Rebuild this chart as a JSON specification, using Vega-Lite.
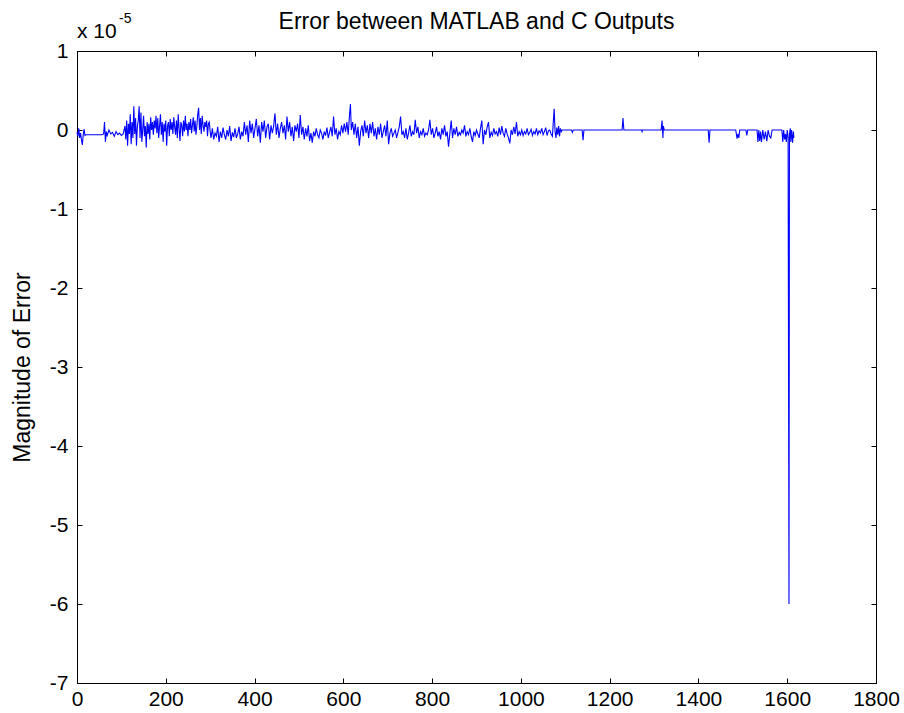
{
  "$schema": "https://vega.github.io/schema/vega-lite/v6.json",
  "width": 799,
  "height": 632,
  "autosize": {"type": "none"},
  "padding": {"left": 77, "top": 51, "right": 28, "bottom": 30},
  "background": "white",
  "config": {
    "view": {"stroke": "black", "strokeWidth": 1},
    "font": "Liberation Sans",
    "axis": {"grid": false, "domainColor": "black", "tickColor": "black", "labelColor": "black", "labelFont": "Liberation Sans", "labelFontSize": 21, "tickSize": -5, "domainWidth": 1, "tickWidth": 1, "labelExpr": "'' + datum.value"}
  },
  "title": {"text": "Error between MATLAB and C Outputs", "font": "Liberation Sans", "fontSize": 23, "fontWeight": "normal", "color": "black", "anchor": "middle", "baseline": "alphabetic", "offset": 19, "dy": 59},
  "datasets": {
    "err": [
      {"i":0,"e":-0.03},{"i":2,"e":-0.08},{"i":4,"e":0.02},{"i":6,"e":-0.1},{"i":8,"e":-0.04},{"i":10,"e":-0.12},{"i":12,"e":-0.19},{"i":14,"e":-0.06},{"i":16,"e":0.01},{"i":18,"e":-0.07},{"i":20,"e":-0.06},
      {"i":24,"e":-0.06},{"i":28,"e":-0.06},{"i":32,"e":-0.06},{"i":36,"e":-0.06},{"i":40,"e":-0.06},{"i":44,"e":-0.06},{"i":48,"e":-0.06},{"i":52,"e":-0.06},{"i":56,"e":-0.06},
      {"i":60,"e":-0.05},{"i":62,"e":0.1},{"i":64,"e":-0.15},{"i":66,"e":-0.02},{"i":68,"e":-0.07},{"i":72,"e":0.0},{"i":76,"e":-0.05},{"i":80,"e":-0.03},{"i":84,"e":-0.08},{"i":88,"e":-0.02},{"i":92,"e":-0.06},{"i":96,"e":-0.04},{"i":100,"e":-0.07},{"i":104,"e":-0.05},
      {"i":108,"e":0.05},{"i":110,"e":-0.12},{"i":112,"e":0.12},{"i":114,"e":-0.2},{"i":116,"e":0.08},{"i":118,"e":-0.05},{"i":120,"e":0.2},{"i":122,"e":-0.18},{"i":124,"e":0.1},{"i":126,"e":-0.1},{"i":128,"e":0.3},{"i":130,"e":-0.05},{"i":132,"e":0.15},{"i":134,"e":-0.2},{"i":136,"e":0.05},{"i":138,"e":0.12},{"i":140,"e":0.3},{"i":142,"e":-0.1},{"i":144,"e":0.22},{"i":146,"e":-0.15},{"i":148,"e":0.0},{"i":150,"e":0.18},{"i":152,"e":-0.08},{"i":154,"e":0.05},{"i":156,"e":-0.22},{"i":158,"e":0.1},{"i":160,"e":-0.05},{"i":162,"e":0.08},{"i":164,"e":-0.12},{"i":166,"e":0.16},{"i":168,"e":0.0},{"i":170,"e":0.1},{"i":172,"e":-0.06},{"i":174,"e":0.12},{"i":176,"e":0.02},{"i":178,"e":0.18},{"i":180,"e":-0.04},{"i":182,"e":0.15},{"i":184,"e":-0.1},{"i":186,"e":0.05},{"i":188,"e":0.2},{"i":190,"e":-0.06},{"i":192,"e":0.1},{"i":194,"e":-0.15},{"i":196,"e":0.08},{"i":198,"e":-0.02},{"i":200,"e":0.12},{"i":202,"e":-0.2},{"i":204,"e":0.05},{"i":206,"e":0.1},{"i":208,"e":-0.08},{"i":210,"e":0.14},{"i":212,"e":0.0},{"i":214,"e":0.1},{"i":216,"e":-0.05},{"i":218,"e":0.16},{"i":220,"e":0.04},{"i":222,"e":-0.06},{"i":224,"e":0.12},{"i":226,"e":-0.1},{"i":228,"e":0.2},{"i":230,"e":0.02},{"i":232,"e":-0.14},{"i":234,"e":0.1},{"i":236,"e":0.06},{"i":238,"e":-0.08},{"i":240,"e":0.12},{"i":242,"e":-0.02},{"i":244,"e":0.18},{"i":246,"e":0.0},{"i":248,"e":0.08},{"i":250,"e":-0.08},
      {"i":252,"e":0.1},{"i":254,"e":0.0},{"i":256,"e":0.14},{"i":258,"e":-0.04},{"i":260,"e":0.06},{"i":262,"e":0.16},{"i":264,"e":-0.02},{"i":266,"e":0.12},{"i":268,"e":-0.06},{"i":270,"e":0.05},{"i":272,"e":0.2},{"i":274,"e":0.28},{"i":276,"e":0.0},{"i":278,"e":0.15},{"i":280,"e":-0.05},{"i":282,"e":0.18},{"i":284,"e":0.06},{"i":286,"e":-0.02},{"i":288,"e":0.1},{"i":290,"e":0.04},{"i":292,"e":0.12},{"i":294,"e":-0.08},{"i":296,"e":0.08},{"i":298,"e":0.1},{"i":300,"e":-0.02},
      {"i":302,"e":-0.1},{"i":305,"e":0.02},{"i":308,"e":-0.12},{"i":311,"e":-0.04},{"i":314,"e":-0.08},{"i":317,"e":0.04},{"i":320,"e":-0.15},{"i":323,"e":-0.02},{"i":326,"e":-0.1},{"i":329,"e":0.03},{"i":332,"e":-0.06},{"i":335,"e":-0.12},{"i":338,"e":0.0},{"i":341,"e":-0.08},{"i":344,"e":0.05},{"i":347,"e":-0.14},{"i":350,"e":-0.03},{"i":353,"e":-0.09},{"i":356,"e":0.02},{"i":359,"e":-0.1},{"i":362,"e":-0.05},{"i":365,"e":0.04},{"i":368,"e":-0.12},{"i":371,"e":-0.02},{"i":374,"e":-0.08},
      {"i":377,"e":0.1},{"i":380,"e":-0.06},{"i":383,"e":0.06},{"i":386,"e":-0.15},{"i":389,"e":0.12},{"i":392,"e":-0.04},{"i":395,"e":0.08},{"i":398,"e":-0.1},{"i":401,"e":0.02},{"i":404,"e":0.14},{"i":407,"e":-0.08},{"i":410,"e":0.06},{"i":413,"e":-0.16},{"i":416,"e":0.1},{"i":419,"e":-0.02},{"i":422,"e":0.12},{"i":425,"e":-0.1},{"i":428,"e":0.04},{"i":431,"e":0.08},{"i":434,"e":-0.12},{"i":437,"e":0.06},{"i":440,"e":-0.04},
      {"i":443,"e":0.05},{"i":446,"e":0.21},{"i":449,"e":-0.06},{"i":452,"e":0.08},{"i":455,"e":-0.1},{"i":458,"e":0.02},{"i":461,"e":0.1},{"i":464,"e":-0.04},{"i":467,"e":0.06},{"i":470,"e":-0.12},{"i":473,"e":0.17},{"i":476,"e":-0.02},{"i":479,"e":0.1},{"i":482,"e":-0.08},{"i":485,"e":0.04},{"i":488,"e":-0.14},{"i":491,"e":0.06},{"i":494,"e":-0.02},{"i":497,"e":0.08},{"i":500,"e":-0.1},{"i":503,"e":0.19},{"i":506,"e":-0.06},{"i":509,"e":0.04},{"i":512,"e":-0.12},{"i":515,"e":0.02},{"i":518,"e":-0.08},{"i":521,"e":0.06},{"i":524,"e":-0.14},{"i":527,"e":-0.04},{"i":530,"e":-0.16},{"i":533,"e":-0.02},{"i":536,"e":-0.08},{"i":539,"e":0.02},{"i":542,"e":-0.06},{"i":545,"e":-0.1},{"i":548,"e":0.0},{"i":551,"e":-0.04},{"i":554,"e":-0.12},{"i":557,"e":-0.02},{"i":560,"e":-0.07},{"i":563,"e":0.03},{"i":566,"e":-0.1},{"i":569,"e":-0.03},{"i":572,"e":0.04},{"i":575,"e":-0.08},{"i":578,"e":0.17},{"i":581,"e":-0.06},{"i":584,"e":0.02},{"i":587,"e":-0.12},{"i":590,"e":-0.02},{"i":593,"e":-0.06},{"i":596,"e":0.06},{"i":599,"e":-0.04},{"i":602,"e":0.08},{"i":605,"e":-0.02},{"i":608,"e":0.1},{"i":611,"e":-0.06},{"i":614,"e":0.2},{"i":616,"e":0.33},{"i":618,"e":0.0},{"i":621,"e":0.1},{"i":624,"e":-0.06},{"i":627,"e":0.08},{"i":630,"e":-0.1},{"i":633,"e":0.04},{"i":636,"e":-0.2},{"i":639,"e":-0.02},{"i":642,"e":0.06},{"i":645,"e":-0.08},{"i":648,"e":0.12},{"i":651,"e":-0.04},{"i":654,"e":0.06},{"i":657,"e":-0.1},{"i":660,"e":0.08},
      {"i":663,"e":-0.04},{"i":666,"e":0.1},{"i":669,"e":-0.08},{"i":672,"e":0.02},{"i":675,"e":-0.12},{"i":678,"e":0.04},{"i":681,"e":-0.06},{"i":684,"e":0.08},{"i":687,"e":-0.1},{"i":690,"e":-0.02},{"i":693,"e":0.06},{"i":696,"e":-0.08},{"i":699,"e":0.12},{"i":702,"e":-0.18},{"i":705,"e":-0.04},{"i":708,"e":0.02},{"i":711,"e":-0.08},{"i":714,"e":-0.04},{"i":717,"e":0.0},{"i":720,"e":-0.1},{"i":723,"e":-0.03},{"i":726,"e":0.04},{"i":729,"e":0.17},{"i":732,"e":-0.06},{"i":735,"e":-0.02},{"i":738,"e":-0.1},{"i":741,"e":0.02},{"i":744,"e":-0.12},{"i":747,"e":-0.04},{"i":750,"e":0.06},{"i":753,"e":-0.08},{"i":756,"e":-0.02},{"i":759,"e":-0.06},{"i":762,"e":0.13},{"i":765,"e":-0.04},{"i":768,"e":0.04},{"i":771,"e":-0.1},{"i":774,"e":-0.02},{"i":777,"e":-0.06},{"i":780,"e":0.02},{"i":783,"e":-0.08},{"i":786,"e":-0.04},{"i":789,"e":-0.06},{"i":792,"e":0.0},{"i":795,"e":0.13},{"i":798,"e":-0.06},{"i":801,"e":0.02},{"i":804,"e":-0.1},{"i":807,"e":-0.04},{"i":810,"e":0.04},{"i":813,"e":-0.08},{"i":816,"e":-0.02},{"i":819,"e":-0.12},{"i":822,"e":0.02},{"i":825,"e":-0.06},{"i":828,"e":0.06},{"i":831,"e":-0.08},{"i":834,"e":-0.02},{"i":837,"e":-0.21},{"i":840,"e":-0.04},{"i":843,"e":0.12},{"i":846,"e":-0.1},{"i":849,"e":0.02},{"i":852,"e":-0.06},{"i":855,"e":0.04},{"i":858,"e":-0.08},{"i":861,"e":-0.03},{"i":864,"e":-0.06},{"i":867,"e":0.0},{"i":870,"e":-0.04},{"i":873,"e":0.06},{"i":876,"e":-0.08},{"i":879,"e":-0.02},{"i":882,"e":-0.06},
      {"i":885,"e":0.02},{"i":888,"e":-0.08},{"i":891,"e":-0.15},{"i":894,"e":-0.02},{"i":897,"e":-0.07},{"i":900,"e":0.0},{"i":903,"e":-0.05},{"i":906,"e":-0.1},{"i":909,"e":0.02},{"i":912,"e":0.12},{"i":915,"e":-0.18},{"i":918,"e":0.0},{"i":921,"e":-0.06},{"i":924,"e":0.04},{"i":927,"e":0.1},{"i":930,"e":-0.1},{"i":933,"e":-0.03},{"i":936,"e":-0.07},{"i":939,"e":0.02},{"i":942,"e":-0.05},{"i":945,"e":-0.02},{"i":948,"e":-0.08},{"i":951,"e":0.03},{"i":954,"e":-0.06},{"i":957,"e":0.05},{"i":960,"e":-0.04},{"i":963,"e":-0.08},{"i":966,"e":0.02},{"i":969,"e":-0.05},{"i":972,"e":-0.1},{"i":975,"e":-0.17},{"i":978,"e":0.0},{"i":981,"e":-0.06},{"i":984,"e":0.04},{"i":987,"e":-0.05},{"i":990,"e":0.1},{"i":993,"e":-0.08},{"i":996,"e":-0.02},{"i":999,"e":-0.06},{"i":1002,"e":0.0},{"i":1005,"e":-0.07},{"i":1008,"e":-0.02},{"i":1011,"e":-0.05},{"i":1014,"e":0.02},{"i":1017,"e":-0.06},{"i":1020,"e":-0.03},{"i":1023,"e":0.01},{"i":1026,"e":-0.07},{"i":1029,"e":-0.02},{"i":1032,"e":-0.05},{"i":1035,"e":0.02},{"i":1038,"e":-0.06},{"i":1041,"e":-0.01},{"i":1044,"e":-0.04},{"i":1047,"e":0.02},{"i":1050,"e":-0.06},{"i":1053,"e":-0.02},{"i":1056,"e":0.03},{"i":1059,"e":-0.07},{"i":1062,"e":-0.01},{"i":1065,"e":0.0},{"i":1068,"e":-0.05},{"i":1071,"e":-0.08},{"i":1073,"e":0.1},{"i":1075,"e":0.27},{"i":1077,"e":-0.02},{"i":1079,"e":-0.1},{"i":1081,"e":0.03},{"i":1083,"e":-0.06},{"i":1085,"e":0.05},{"i":1087,"e":-0.08},{"i":1089,"e":0.02},{"i":1091,"e":-0.02},{"i":1093,"e":0.0},
      {"i":1114,"e":0.0},{"i":1116,"e":-0.03},{"i":1118,"e":0.0},{"i":1138,"e":0.0},{"i":1140,"e":-0.13},{"i":1142,"e":0.0},{"i":1228,"e":0.0},{"i":1230,"e":0.15},{"i":1232,"e":0.0},{"i":1272,"e":0.0},{"i":1273,"e":-0.02},{"i":1274,"e":0.0},{"i":1316,"e":0.0},{"i":1318,"e":0.12},{"i":1320,"e":-0.1},{"i":1321,"e":0.05},{"i":1323,"e":0.0},{"i":1422,"e":0.0},{"i":1424,"e":-0.16},{"i":1426,"e":0.0},{"i":1484,"e":0.0},{"i":1487,"e":-0.11},{"i":1489,"e":-0.05},{"i":1491,"e":-0.1},{"i":1493,"e":0.0},{"i":1507,"e":0.0},{"i":1509,"e":-0.07},{"i":1511,"e":0.0},{"i":1532,"e":0.0},{"i":1534,"e":-0.15},{"i":1536,"e":0.0},{"i":1538,"e":-0.14},{"i":1540,"e":-0.02},{"i":1542,"e":-0.15},{"i":1545,"e":0.0},{"i":1548,"e":-0.12},{"i":1551,"e":-0.02},{"i":1554,"e":-0.14},{"i":1557,"e":0.0},{"i":1560,"e":-0.08},{"i":1563,"e":-0.1},{"i":1566,"e":0.0},{"i":1570,"e":0.0},{"i":1588,"e":0.0},{"i":1590,"e":-0.15},{"i":1592,"e":0.0},{"i":1594,"e":-0.12},{"i":1596,"e":-0.05},{"i":1598,"e":-0.15},{"i":1600,"e":0.0},{"i":1602,"e":-0.1},{"i":1604,"e":-6.0},{"i":1605,"e":-0.05},{"i":1607,"e":0.02},{"i":1608,"e":-0.15},{"i":1610,"e":0.0},{"i":1612,"e":-0.16},{"i":1614,"e":-0.02},{"i":1615,"e":-0.1}
    ]
  },
  "resolve": {"axis": {"x": "independent", "y": "independent"}},
  "layer": [
    {
      "data": {"name": "err"},
      "mark": {"type": "line", "color": "#0000ff", "strokeWidth": 1.1, "interpolate": "linear"},
      "encoding": {
        "x": {"field": "i", "type": "quantitative", "scale": {"domain": [0, 1800], "nice": false, "zero": false}, "axis": {"orient": "bottom", "values": [0,200,400,600,800,1000,1200,1400,1600,1800], "title": null, "labelPadding": 10, "labelFlush": false}},
        "y": {"field": "e", "type": "quantitative", "scale": {"domain": [-7, 1], "nice": false, "zero": false}, "axis": {"orient": "left", "values": [-7,-6,-5,-4,-3,-2,-1,0,1], "title": "Magnitude of Error", "titleFont": "Liberation Sans", "titleFontSize": 23, "titleFontWeight": "normal", "titleColor": "black", "titleX": -55, "titleY": 316, "titleAngle": -90, "titleAlign": "center", "titleBaseline": "middle", "labelPadding": 14}}
      }
    },
    {
      "data": {"name": "err"},
      "mark": {"type": "line", "opacity": 0},
      "encoding": {
        "x": {"field": "i", "type": "quantitative", "axis": {"orient": "top", "values": [0,200,400,600,800,1000,1200,1400,1600,1800], "labels": false, "title": null}},
        "y": {"field": "e", "type": "quantitative", "axis": {"orient": "right", "values": [-7,-6,-5,-4,-3,-2,-1,0,1], "labels": false, "title": null}}
      }
    },
    {
      "data": {"values": [{"label": "x 10"}]},
      "mark": {"type": "text", "align": "left", "baseline": "alphabetic", "fontSize": 21, "font": "Liberation Sans", "color": "black", "dx": 0, "dy": -13},
      "encoding": {
        "x": {"datum": 0, "type": "quantitative", "axis": null},
        "y": {"datum": 1, "type": "quantitative", "axis": null},
        "text": {"field": "label"}
      }
    },
    {
      "data": {"values": [{"label": "-5"}]},
      "mark": {"type": "text", "align": "left", "baseline": "alphabetic", "fontSize": 14, "font": "Liberation Sans", "color": "black", "dx": 42, "dy": -28},
      "encoding": {
        "x": {"datum": 0, "type": "quantitative", "axis": null},
        "y": {"datum": 1, "type": "quantitative", "axis": null},
        "text": {"field": "label"}
      }
    }
  ]
}
